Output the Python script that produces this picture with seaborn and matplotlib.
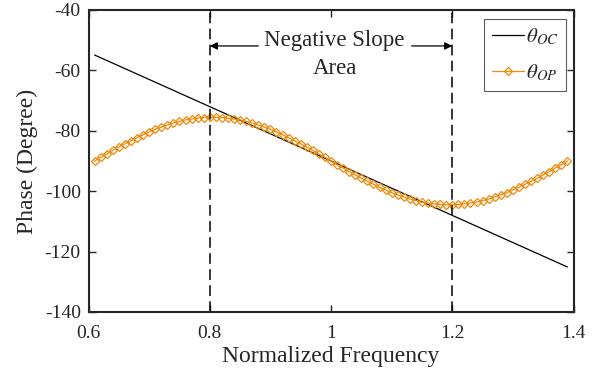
import numpy as np
import pandas as pd
import matplotlib
matplotlib.use("Agg")
import matplotlib.pyplot as plt
import seaborn as sns

# ---- data ----
oc_freq = [0.61, 1.39]
oc_phase = [-54.9, -125.1]

op_freq = [round(0.61 + 0.01 * i, 2) for i in range(79)]
op_phase = [
    -90.0, -88.8, -87.7, -86.5, -85.4, -84.3, -83.3, -82.3, -81.3, -80.4,
    -79.5, -78.8, -78.1, -77.4, -76.9, -76.4, -76.1, -75.8, -75.6, -75.5,
    -75.5, -75.6, -75.8, -76.1, -76.4, -76.9, -77.4, -78.1, -78.8, -79.5,
    -80.4, -81.3, -82.3, -83.3, -84.3, -85.4, -86.5, -87.7, -88.8, -90.0,
    -91.2, -92.3, -93.5, -94.6, -95.7, -96.7, -97.7, -98.7, -99.6, -100.5,
    -101.2, -101.9, -102.6, -103.1, -103.6, -103.9, -104.2, -104.4, -104.5, -104.5,
    -104.4, -104.2, -103.9, -103.6, -103.1, -102.6, -101.9, -101.2, -100.5, -99.6,
    -98.7, -97.7, -96.7, -95.7, -94.6, -93.5, -92.3, -91.2, -90.0,
]
xticks = [0.6, 0.8, 1.0, 1.2, 1.4]
xtick_labels = ["0.6", "0.8", "1", "1.2", "1.4"]
yticks = [-140, -120, -100, -80, -60, -40]
region_bounds = [0.8, 1.2]

sns.set_style("ticks")
plt.rcParams["font.family"] = ["Liberation Serif", "DejaVu Serif"]
plt.rcParams["mathtext.fontset"] = "stix"
plt.rcParams["axes.unicode_minus"] = False

W, H = 601, 378
fig = plt.figure(figsize=(W / 100, H / 100), dpi=100)
l, r, t, b = 88.5, 573.5, 10, 312
ax = fig.add_axes([l / W, 1 - b / H, (r - l) / W, (b - t) / H])

orange = "#EC8B0C"
txtc = "#262626"
df_oc = pd.DataFrame({"f": oc_freq, "p": oc_phase})
df_op = pd.DataFrame({"f": op_freq, "p": op_phase})
sns.lineplot(data=df_oc, x="f", y="p", ax=ax, color="black", lw=0.9,
             label=r"$\theta_{OC}$")
sns.lineplot(data=df_op, x="f", y="p", ax=ax, color=orange, lw=0.9,
             marker="D", markersize=4.5, markerfacecolor="none",
             markeredgecolor=orange, markeredgewidth=0.9,
             label=r"$\theta_{OP}$")

for xb in region_bounds:
    ax.axvline(xb, color="black", lw=1.1, ls=(0, (7, 3.5)))

arrow_y = -51.9
ax.annotate("", xy=(region_bounds[0], arrow_y), xytext=(0.88, arrow_y),
            arrowprops=dict(arrowstyle="-|>", color="black", lw=0.9,
                            mutation_scale=11, shrinkA=0, shrinkB=0))
ax.annotate("", xy=(region_bounds[1], arrow_y), xytext=(1.133, arrow_y),
            arrowprops=dict(arrowstyle="-|>", color="black", lw=0.9,
                            mutation_scale=11, shrinkA=0, shrinkB=0))
ax.text(1.006, -50.2, "Negative Slope", ha="center", va="center",
        fontsize=16.5, color=txtc)
ax.text(1.006, -59.5, "Area", ha="center", va="center", fontsize=16.5,
        color=txtc)

ax.set_xlim(0.6, 1.4)
ax.set_ylim(-140, -40)
ax.set_xticks(xticks)
ax.set_xticklabels(xtick_labels)
ax.set_yticks(yticks)
ax.tick_params(direction="in", top=True, right=True, labelsize=14,
               length=5, width=1.0, labelcolor=txtc)
ax.tick_params(axis="x", pad=9.5)
ax.tick_params(axis="y", pad=5.5)
for s in ax.spines.values():
    s.set_linewidth(1.5)
    s.set_visible(True)
ax.set_xlabel("Normalized Frequency", fontsize=17, labelpad=2.5, color=txtc)
ax.set_ylabel("Phase (Degree)", fontsize=17, labelpad=5, color=txtc)

leg = ax.legend(loc="upper right", fontsize=15, frameon=True, fancybox=False,
                handlelength=1.55, borderpad=0.35, labelspacing=0.75,
                handletextpad=0.1, borderaxespad=0.0,
                bbox_to_anchor=((566 - l) / (r - l), 1 - (19 - t) / (b - t)))
leg.get_frame().set_edgecolor("#333333")
leg.get_frame().set_linewidth(0.8)
for h in leg.legend_handles:
    try:
        h.set_markersize(4.0)
    except Exception:
        pass

fig.savefig("out.png", dpi=100)
